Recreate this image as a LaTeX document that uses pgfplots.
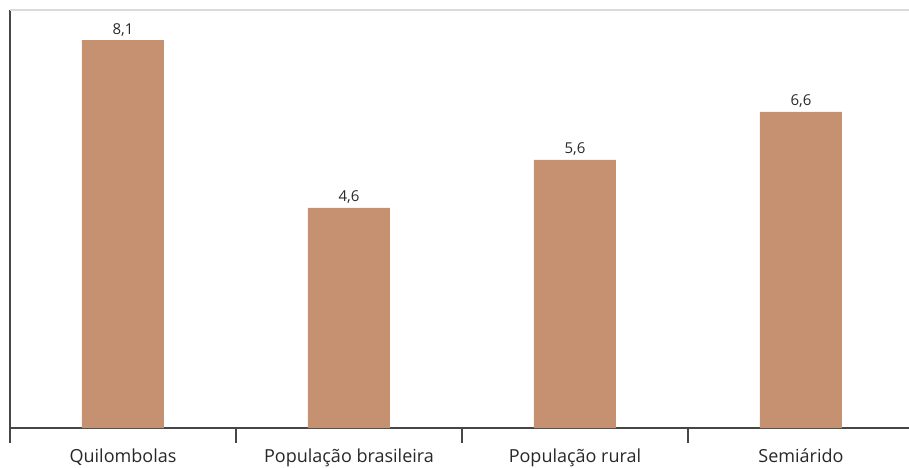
\documentclass[border=0pt]{standalone}
\usepackage{pgfplots}
\pgfplotsset{compat=1.18}
\usepackage{fontspec}
\setmainfont{Open Sans}
\definecolor{barcolor}{RGB}{198,145,112}
\definecolor{axisgray}{RGB}{70,70,70}
\definecolor{topgray}{RGB}{218,218,218}
\definecolor{labelgray}{RGB}{40,40,40}
\begin{document}
\begin{tikzpicture}[x=1pt,y=1pt]
\useasboundingbox (-10pt,-39pt) rectangle (899pt,428pt);
\begin{axis}[
  at={(0pt,0pt)}, anchor=south west,
  scale only axis,
  width=899pt, height=418pt,
  xmin=-0.5, xmax=3.478,
  ymin=0, ymax=8.73,
  axis x line*=bottom,
  axis y line*=left,
  axis line style={axisgray, line width=1.2pt},
  ytick=\empty,
  xtick={0,1,2,3},
  xticklabels={Quilombolas, População brasileira, População rural, Semiárido},
  major tick length=0pt,
  xticklabel style={font=\fontsize{18}{21}\selectfont, text=labelgray, yshift=-17pt},
  /pgf/number format/assume math mode=true,
  ybar, bar width=82pt,
  bar shift=0pt,
  nodes near coords,
  nodes near coords style={font=\fontsize{15}{18}\selectfont, text=labelgray, inner sep=4pt,
    /pgf/number format/.cd, use comma, fixed, fixed zerofill, precision=1},
  clip=false,
]
\addplot[fill=barcolor, draw=none] coordinates {(0,8.1) (1,4.6) (2,5.6) (3,6.6)};
% light rule along the top of the plot area
\draw[topgray, line width=2pt] (rel axis cs:0,1) -- (rel axis cs:1.01,1);
% category separators below the baseline
\draw[axisgray, line width=1.2pt] (axis cs:-0.5,0) -- ++(0pt,-15pt);
\draw[axisgray, line width=1.2pt] (axis cs:0.5,0) -- ++(0pt,-15pt);
\draw[axisgray, line width=1.2pt] (axis cs:1.5,0) -- ++(0pt,-15pt);
\draw[axisgray, line width=1.2pt] (axis cs:2.5,0) -- ++(0pt,-15pt);
\end{axis}
\end{tikzpicture}
\end{document}
